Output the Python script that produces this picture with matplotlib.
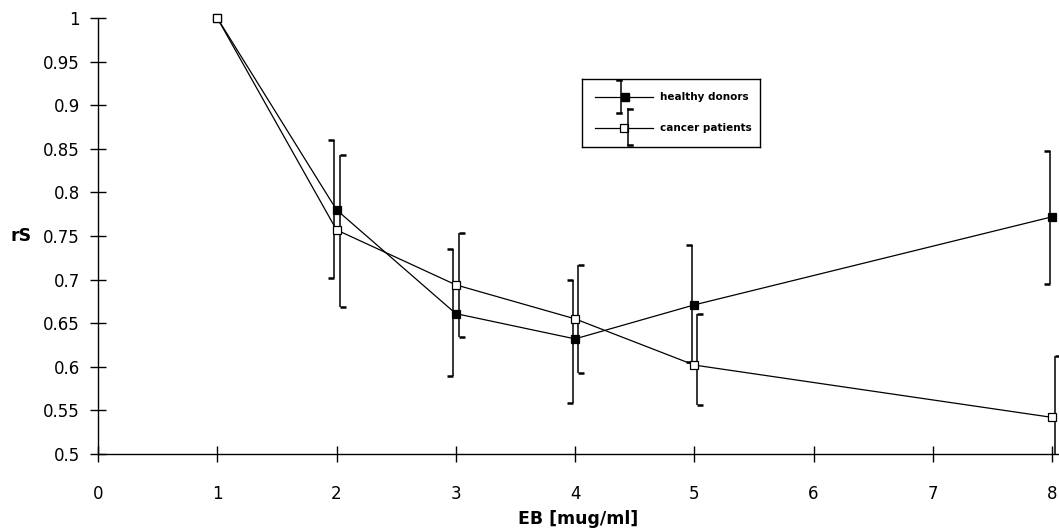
import matplotlib
matplotlib.use("Agg")
import matplotlib.pyplot as plt
from matplotlib.transforms import ScaledTranslation
from matplotlib.path import Path
from matplotlib.markers import MarkerStyle
import numpy as np

# ---- data ----
doses = [1, 2, 3, 4, 5, 8]
xticks = [0, 1, 2, 3, 4, 5, 6, 7, 8]
healthy_mean = [1.0, 0.780, 0.661, 0.632, 0.671, 0.772]
healthy_upper = [1.0, 0.860, 0.735, 0.700, 0.740, 0.847]
healthy_lower = [1.0, 0.702, 0.589, 0.558, 0.606, 0.695]
cancer_mean = [1.0, 0.757, 0.694, 0.655, 0.602, 0.542]
cancer_upper = [1.0, 0.843, 0.753, 0.717, 0.660, 0.612]
cancer_lower = [1.0, 0.669, 0.634, 0.593, 0.556, 0.472]
yticks = [0.5, 0.55, 0.6, 0.65, 0.7, 0.75, 0.8, 0.85, 0.9, 0.95, 1.0]
ytick_labels = ["0.5", "0.55", "0.6", "0.65", "0.7", "0.75", "0.8", "0.85", "0.9", "0.95", "1"]
series_names = ["healthy donors", "cancer patients"]

W, H = 1059, 532
fig = plt.figure(figsize=(W / 100, H / 100), dpi=100)
plt.rcParams['font.family'] = ['DejaVu Sans']

ax = fig.add_axes([98 / W, 1 - 454 / H, 960 / W, 436 / H])
ax.set_xlim(0, 8.05)
ax.set_ylim(0.5, 1.0)
for s in ["top", "right"]:
    ax.spines[s].set_visible(False)
for s in ["left", "bottom"]:
    ax.spines[s].set_linewidth(1.0)

ax.set_xticks(xticks)
ax.set_xticklabels([str(t) for t in xticks])
ax.set_yticks(yticks)
ax.set_yticklabels(ytick_labels)
ax.tick_params(axis='both', direction='inout', length=12, width=1.0, labelsize=12)
ax.tick_params(axis='y', pad=7)
ax.tick_params(axis='x', pad=16)

ax.set_xlabel("EB [mug/ml]", fontsize=12.5, fontweight='bold', labelpad=5)
ax.set_ylabel("rS", fontsize=12.5, fontweight='bold', rotation=0, ha='right', va='center')
ax.yaxis.set_label_coords(-0.069, 0.5)

# caps as half-line markers
cap_left = MarkerStyle(Path([(0, 0), (-1, 0)], [Path.MOVETO, Path.LINETO]))
cap_right = MarkerStyle(Path([(0, 0), (1, 0)], [Path.MOVETO, Path.LINETO]))

def bracket_bars(x, lo, hi, dx_px, cap, color='black'):
    x = np.asarray(x); lo = np.asarray(lo); hi = np.asarray(hi)
    sel = hi > lo
    tr = ax.transData + ScaledTranslation(dx_px / 100, 0, fig.dpi_scale_trans)
    ax.vlines(x[sel], lo[sel], hi[sel], colors=color, lw=1.1,
              transform=tr, clip_on=True)
    for yy in [lo[sel], hi[sel]]:
        ax.plot(x[sel], yy, ls='none', marker=cap, ms=8, mew=1.8, mec=color,
                transform=tr, clip_on=True)

bracket_bars(doses, healthy_lower, healthy_upper, -2.5, cap_left)
bracket_bars(doses, cancer_lower, cancer_upper, 3, cap_right)

ax.plot(doses, healthy_mean, color='black', lw=0.9, marker='s', ms=5.5,
        mfc='black', mec='black', mew=0.9, clip_on=False, zorder=5)
ax.plot(doses, cancer_mean, color='black', lw=0.9, marker='s', ms=6,
        mfc='white', mec='black', mew=0.9, clip_on=False, zorder=5)

# ---- legend drawn in its own small box ----
lg = fig.add_axes([582 / W, 1 - 147 / H, 178 / W, 68 / H])
lg.set_xlim(0, 178)
lg.set_ylim(68, 0)
lg.set_xticks([]); lg.set_yticks([])
for s in lg.spines.values():
    s.set_linewidth(1.0)
lg.patch.set_alpha(0)
# healthy
lg.plot([13, 71], [18, 18], color='black', lw=0.9)
lg.plot([43], [18], marker='s', ms=5.5, mfc='black', mec='black')
lg.plot([39, 39], [1, 34], color='black', lw=1.1)
lg.plot([35, 39], [1, 1], color='black', lw=1.8)
lg.plot([35, 39], [34, 34], color='black', lw=1.8)
lg.text(78, 18, series_names[0], fontsize=7.5, fontweight='bold', va='center', ha='left')
# cancer
lg.plot([13, 71], [49, 49], color='black', lw=0.9)
lg.plot([42], [49], marker='s', ms=6, mfc='white', mec='black', mew=0.9)
lg.plot([46, 46], [30, 66], color='black', lw=1.1)
lg.plot([46, 50], [30, 30], color='black', lw=1.8)
lg.plot([46, 50], [66, 66], color='black', lw=1.8)
lg.text(78, 49, series_names[1], fontsize=7.5, fontweight='bold', va='center', ha='left')

fig.savefig("out.png", dpi=100)
